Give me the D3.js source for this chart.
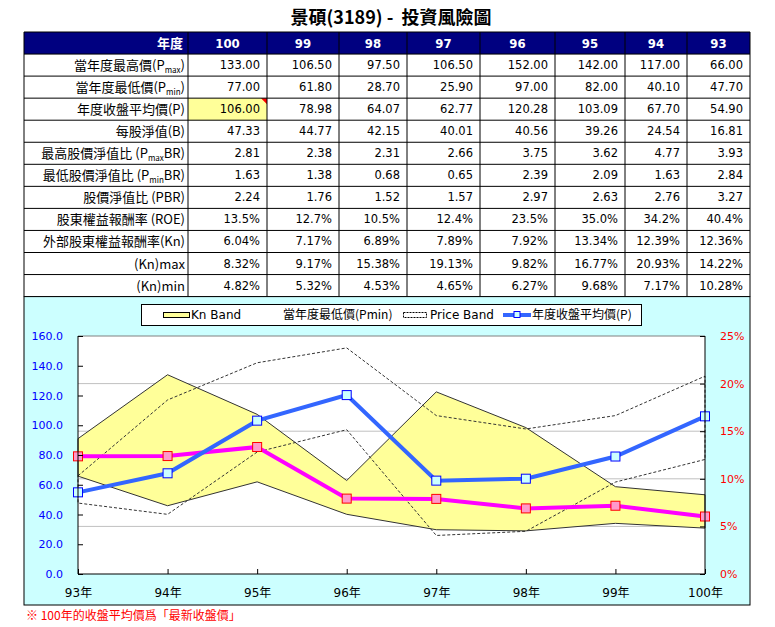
<!DOCTYPE html>
<html>
<head>
<meta charset="utf-8">
<script src="https://cdnjs.cloudflare.com/ajax/libs/d3/7.8.5/d3.min.js"></script>
<style>
  body { margin: 0; background: #fff; }
  text { font-family: "DejaVu Sans", sans-serif; }
  .cjk { font-family: "Noto Sans CJK TC", "Noto Sans CJK SC", sans-serif; }
</style>
</head>
<body>
<div id="chart"></div>
<script>
// table data (columns in table order: 100 -> 93)
var years = [100, 99, 98, 97, 96, 95, 94, 93];
var pmax = [133.00, 106.50, 97.50, 106.50, 152.00, 142.00, 117.00, 66.00];
var pmin = [77.00, 61.80, 28.70, 25.90, 97.00, 82.00, 40.10, 47.70];
var pavg = [106.00, 78.98, 64.07, 62.77, 120.28, 103.09, 67.70, 54.90];
var bvps = [47.33, 44.77, 42.15, 40.01, 40.56, 39.26, 24.54, 16.81];
var pmaxBR = [2.81, 2.38, 2.31, 2.66, 3.75, 3.62, 4.77, 3.93];
var pminBR = [1.63, 1.38, 0.68, 0.65, 2.39, 2.09, 1.63, 2.84];
var pbr = [2.24, 1.76, 1.52, 1.57, 2.97, 2.63, 2.76, 3.27];
var roe = [13.5, 12.7, 10.5, 12.4, 23.5, 35.0, 34.2, 40.4];
var kn = [6.04, 7.17, 6.89, 7.89, 7.92, 13.34, 12.39, 12.36];
var knMax = [8.32, 9.17, 15.38, 19.13, 9.82, 16.77, 20.93, 14.22];
var knMin = [4.82, 5.32, 4.53, 4.65, 6.27, 9.68, 7.17, 10.28];

var leftTicks = [0, 20, 40, 60, 80, 100, 120, 140, 160];
var rightTicks = [0, 0.05, 0.10, 0.15, 0.20, 0.25];

var rowLabels = [
  ["當年度最高價(P", "max", ")"],
  ["當年度最低價(P", "min", ")"],
  ["年度收盤平均價(P)", "", ""],
  ["每股淨值(B)", "", ""],
  ["最高股價淨值比 (P", "max", "BR)"],
  ["最低股價淨值比 (P", "min", "BR)"],
  ["股價淨值比 (PBR)", "", ""],
  ["股東權益報酬率 (ROE)", "", ""],
  ["外部股東權益報酬率(Kn)", "", ""],
  ["(Kn)max", "", ""],
  ["(Kn)min", "", ""]
];

var f2 = function(v) { return v.toFixed(2); };
var p1 = function(v) { return v.toFixed(1) + "%"; };
var p2 = function(v) { return v.toFixed(2) + "%"; };
var rows = [
  pmax.map(f2), pmin.map(f2), pavg.map(f2), bvps.map(f2),
  pmaxBR.map(f2), pminBR.map(f2), pbr.map(f2),
  roe.map(p1), kn.map(p2), knMax.map(p2), knMin.map(p2)
];

var svg = d3.select("#chart").append("svg")
  .attr("width", 775)
  .attr("height", 627);

// title
svg.append("text")
  .attr("class", "cjk")
  .attr("x", 391)
  .attr("y", 24)
  .attr("text-anchor", "middle")
  .style("font-size", "18px")
  .style("font-weight", "bold")
  .style("white-space", "pre")
  .text("景碩(3189) -  投資風險圖");

// table
var colX = [24, 188, 267, 339, 407, 480, 555, 625, 687, 750];
var tableTop = 32;
var rowH = 22.05;

var table = svg.append("g");

// header row
table.append("rect")
  .attr("x", colX[0]).attr("y", tableTop)
  .attr("width", colX[9] - colX[0]).attr("height", rowH)
  .attr("fill", "#000080");

table.append("text")
  .attr("class", "cjk")
  .attr("x", colX[1] - 5)
  .attr("y", tableTop + rowH / 2 + 5)
  .attr("text-anchor", "end")
  .attr("fill", "#fff")
  .style("font-size", "13px")
  .style("font-weight", "bold")
  .text("年度");

table.selectAll(".hdr")
  .data(years)
  .enter()
  .append("text")
  .attr("x", function(d, i) { return (colX[i + 1] + colX[i + 2]) / 2; })
  .attr("y", tableTop + rowH / 2 + 5)
  .attr("text-anchor", "middle")
  .attr("fill", "#fff")
  .style("font-size", "13px")
  .style("font-weight", "bold")
  .style("font-family", "'Liberation Sans Narrow', 'DejaVu Sans Condensed', sans-serif")
  .text(function(d) { return d; });

// highlighted cell (100, P)
var hlY = tableTop + rowH * 3;
table.append("rect")
  .attr("x", colX[1]).attr("y", hlY)
  .attr("width", colX[2] - colX[1]).attr("height", rowH)
  .attr("fill", "#ffff99");
table.append("path")
  .attr("d", "M" + (colX[2] - 6) + "," + hlY + "L" + colX[2] + "," + hlY + "L" + colX[2] + "," + (hlY + 6) + "Z")
  .attr("fill", "#ff0000");

// row labels
rowLabels.forEach(function(lab, r) {
  var y = tableTop + rowH * (r + 1) + rowH / 2 + 5;
  var t = table.append("text")
    .attr("class", "cjk")
    .attr("x", colX[1] - 3)
    .attr("y", y)
    .attr("text-anchor", "end")
    .style("font-size", "13px");
  t.append("tspan").text(lab[0]);
  if (lab[1]) {
    t.append("tspan").attr("dy", 3).style("font-size", "8px").text(lab[1]);
    t.append("tspan").attr("dy", -3).text(lab[2]);
  }
});

// values
rows.forEach(function(vals, r) {
  var y = tableTop + rowH * (r + 1) + rowH / 2 + 4;
  table.selectAll(".v" + r)
    .data(vals)
    .enter()
    .append("text")
    .attr("x", function(d, i) { return colX[i + 2] - 7; })
    .attr("y", y)
    .attr("text-anchor", "end")
    .style("font-size", "11.5px")
    .text(function(d) { return d; });
});

// grid lines of table
for (var r = 0; r <= 12; r++) {
  table.append("line")
    .attr("x1", colX[0]).attr("x2", colX[9])
    .attr("y1", tableTop + r * rowH).attr("y2", tableTop + r * rowH)
    .attr("stroke", "#000").attr("stroke-width", 1);
}
colX.forEach(function(x) {
  table.append("line")
    .attr("x1", x).attr("x2", x)
    .attr("y1", tableTop).attr("y2", tableTop + 12 * rowH)
    .attr("stroke", "#000").attr("stroke-width", 1);
});

// chart area
var areaTop = tableTop + 12 * rowH;
svg.append("rect")
  .attr("x", colX[0]).attr("y", areaTop)
  .attr("width", colX[9] - colX[0]).attr("height", 605 - areaTop)
  .attr("fill", "#ccffff")
  .attr("stroke", "#000");

var plot = { left: 78, right: 705, top: 336, bottom: 574 };

// chart data in chronological order
var chartYears = years.slice().reverse();
var cPmax = pmax.slice().reverse();
var cPmin = pmin.slice().reverse();
var cPavg = pavg.slice().reverse();
var cKn = kn.slice().reverse();
var cKnMax = knMax.slice().reverse();
var cKnMin = knMin.slice().reverse();

var x = d3.scalePoint().domain(chartYears).range([plot.left, plot.right]);
var yL = d3.scaleLinear().domain([0, 160]).range([plot.bottom, plot.top]);
var yR = d3.scaleLinear().domain([0, 0.25]).range([plot.bottom, plot.top]);

svg.append("rect")
  .attr("x", plot.left).attr("y", plot.top)
  .attr("width", plot.right - plot.left).attr("height", plot.bottom - plot.top)
  .attr("fill", "#fff");

// gridlines (from right axis)
svg.selectAll(".grid")
  .data(rightTicks.slice(1, 5))
  .enter()
  .append("line")
  .attr("x1", plot.left).attr("x2", plot.right)
  .attr("y1", function(d) { return yR(d); })
  .attr("y2", function(d) { return yR(d); })
  .attr("stroke", "#c0c0c0");

svg.append("line")
  .attr("x1", plot.left).attr("x2", plot.right)
  .attr("y1", plot.top).attr("y2", plot.top)
  .attr("stroke", "#808080");

// Kn band
var idx = d3.range(chartYears.length);
var knArea = d3.area()
  .x(function(i) { return x(chartYears[i]); })
  .y0(function(i) { return yR(cKnMin[i] / 100); })
  .y1(function(i) { return yR(cKnMax[i] / 100); });

svg.append("path")
  .datum(idx)
  .attr("d", function(d) { return knArea(d) + "Z"; })
  .attr("fill", "#ffff99")
  .attr("stroke", "#333")
  .attr("stroke-width", 1);

// price band
var priceArea = d3.area()
  .x(function(i) { return x(chartYears[i]); })
  .y0(function(i) { return yL(cPmin[i]); })
  .y1(function(i) { return yL(cPmax[i]); });

svg.append("path")
  .datum(idx)
  .attr("d", function(d) { return priceArea(d) + "Z"; })
  .attr("fill", "none")
  .attr("stroke", "#333")
  .attr("stroke-width", 1)
  .attr("stroke-dasharray", "3,2");

// Kn line (pink)
var knLine = d3.line()
  .x(function(i) { return x(chartYears[i]); })
  .y(function(i) { return yR(cKn[i] / 100); });

svg.append("path")
  .datum(idx)
  .attr("d", knLine)
  .attr("fill", "none")
  .attr("stroke", "#ff00ff")
  .attr("stroke-width", 4);

// P line (blue)
var pLine = d3.line()
  .x(function(i) { return x(chartYears[i]); })
  .y(function(i) { return yL(cPavg[i]); });

svg.append("path")
  .datum(idx)
  .attr("d", pLine)
  .attr("fill", "none")
  .attr("stroke", "#3366ff")
  .attr("stroke-width", 4);

svg.selectAll(".kmark")
  .data(idx)
  .enter()
  .append("rect")
  .attr("x", function(i) { return x(chartYears[i]) - 4.5; })
  .attr("y", function(i) { return yR(cKn[i] / 100) - 4.5; })
  .attr("width", 9).attr("height", 9)
  .attr("fill", "#ff99cc")
  .attr("stroke", "#ff0000");

svg.selectAll(".pmark")
  .data(idx)
  .enter()
  .append("rect")
  .attr("x", function(i) { return x(chartYears[i]) - 4.5; })
  .attr("y", function(i) { return yL(cPavg[i]) - 4.5; })
  .attr("width", 9).attr("height", 9)
  .attr("fill", "#ccffff")
  .attr("stroke", "#0000ff");

// left axis
var axL = svg.append("g")
  .attr("transform", "translate(" + plot.left + ",0)")
  .call(d3.axisLeft(yL).tickValues(leftTicks).tickSize(-5).tickPadding(15)
    .tickFormat(d3.format(".1f")));
axL.select(".domain").attr("stroke", "#000").attr("d", "M0," + plot.top + "V" + plot.bottom);
axL.selectAll("text").attr("fill", "#0000ff").style("font-size", "11px")
  .style("font-family", "DejaVu Sans");

// right axis
var axR = svg.append("g")
  .attr("transform", "translate(" + plot.right + ",0)")
  .call(d3.axisRight(yR).tickValues(rightTicks).tickSize(-5).tickPadding(15)
    .tickFormat(d3.format(".0%")));
axR.select(".domain").attr("stroke", "#000").attr("d", "M0," + plot.top + "V" + plot.bottom);
axR.selectAll("text").attr("fill", "#ff0000").style("font-size", "11px")
  .style("font-family", "DejaVu Sans");

// x axis
var axX = svg.append("g")
  .attr("transform", "translate(0," + plot.bottom + ")")
  .call(d3.axisBottom(x).tickSize(-5).tickPadding(14)
    .tickFormat(function(d) { return d + "年"; }));
axX.select(".domain").attr("stroke", "#000").attr("d", "M" + plot.left + ",0H" + plot.right);
axX.selectAll("text").attr("fill", "#000").style("font-size", "12px")
  .style("font-family", "DejaVu Sans, 'Noto Sans CJK TC'");

// legend
var lg = svg.append("g");
lg.append("rect")
  .attr("x", 141.5).attr("y", 304.5)
  .attr("width", 500).attr("height", 21)
  .attr("fill", "#fff").attr("stroke", "#000");

var legY = 319;
lg.append("rect")
  .attr("x", 163.5).attr("y", 312.5).attr("width", 26).attr("height", 5)
  .attr("fill", "#ffff99").attr("stroke", "#000");
lg.append("text").attr("x", 191).attr("y", legY).style("font-size", "12px").text("Kn Band");

lg.append("text").attr("class", "cjk").attr("x", 283).attr("y", legY).style("font-size", "12px")
  .text("當年度最低價(Pmin)");

lg.append("rect")
  .attr("x", 403.5).attr("y", 312.5).attr("width", 23).attr("height", 5)
  .attr("fill", "none").attr("stroke", "#000").attr("stroke-dasharray", "2,1");
lg.append("text").attr("x", 430).attr("y", legY).style("font-size", "12px").text("Price Band");

lg.append("line")
  .attr("x1", 503).attr("x2", 531).attr("y1", 315).attr("y2", 315)
  .attr("stroke", "#3366ff").attr("stroke-width", 4);
lg.append("rect")
  .attr("x", 514).attr("y", 311.5).attr("width", 6).attr("height", 6)
  .attr("fill", "#ccffff").attr("stroke", "#0000ff");
lg.append("text").attr("class", "cjk").attr("x", 532).attr("y", legY).style("font-size", "12px")
  .text("年度收盤平均價(P)");

// footnote
svg.append("text")
  .attr("class", "cjk")
  .attr("x", 26)
  .attr("y", 620)
  .attr("fill", "#ff0000")
  .style("font-size", "12px")
  .text("※ 100年的收盤平均價爲「最新收盤價」");
</script>
</body>
</html>
